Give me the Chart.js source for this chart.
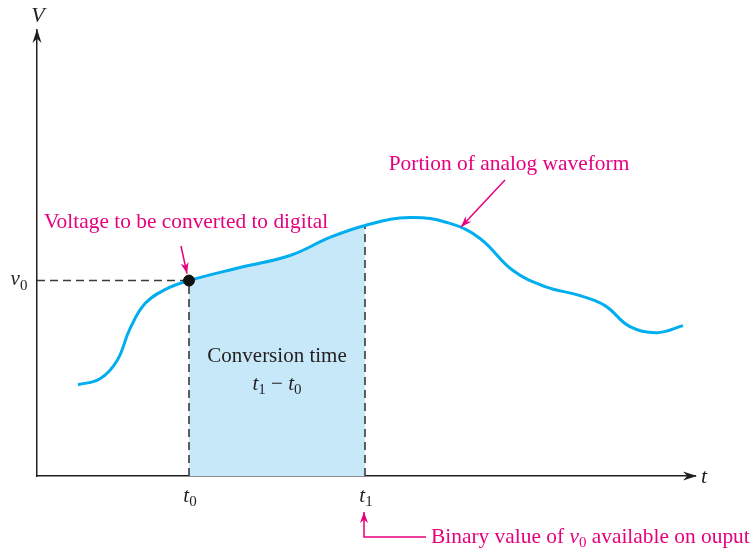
<!DOCTYPE html>
<html><head><meta charset="utf-8">
<script src="https://cdn.jsdelivr.net/npm/chart.js@4/dist/chart.umd.min.js"></script>
<style>html,body{margin:0;padding:0;background:#fff}</style>
</head><body>
<canvas id="c" width="751" height="552"></canvas>
<script>
// ---- data (arbitrary units) ----
const timeValues    = [41, 63, 80, 93, 108, 128, 152, 203, 253, 293, 328, 373, 413, 443, 476, 508, 543, 568, 593, 620, 646];
const voltageValues = [91, 97, 115, 147, 172, 186, 195, 208, 220, 238, 250, 258, 252, 237, 205, 189, 180, 170, 149, 143, 150];
const t0 = 152, t1 = 328;       // start / end of conversion
const v0 = 195, v1 = 250;       // waveform value at t0 / t1
const tMax = 658, vMax = 445;   // axis extents

const BLUE = '#00aeef', FILL = '#c6e8f8', MAGENTA = '#e6007e', INK = '#231f20', DASH = '#3a3a3a';
const FAM = '"Liberation Serif", "Times New Roman", serif';

const curve = timeValues.map((t, i) => ({x: t, y: voltageValues[i]}));

function drawRich(ctx, parts, x, y, align, size, color) {
  const fontFor = p => (p.s === 'i' ? 'italic ' : '') + (p.s === 's' ? Math.round(size * 0.72) : size) + 'px ' + FAM;
  let w = 0;
  for (const p of parts) { ctx.font = fontFor(p); w += ctx.measureText(p.t).width; }
  let cx = align === 'center' ? x - w / 2 : align === 'right' ? x - w : x;
  ctx.textAlign = 'left'; ctx.textBaseline = 'middle'; ctx.fillStyle = color;
  for (const p of parts) {
    ctx.font = fontFor(p);
    ctx.fillText(p.t, cx, y + (p.s === 's' ? size * 0.3 : 0));
    cx += ctx.measureText(p.t).width;
  }
}
function arrowHead(ctx, fx, fy, tx, ty, len, half, color) {
  const a = Math.atan2(ty - fy, tx - fx);
  const c = Math.cos(a), s = Math.sin(a);
  ctx.fillStyle = color;
  ctx.beginPath();
  ctx.moveTo(tx, ty);
  ctx.lineTo(tx - len * c + half * s, ty - len * s - half * c);
  ctx.lineTo(tx - len * 0.7 * c, ty - len * 0.7 * s);
  ctx.lineTo(tx - len * c - half * s, ty - len * s + half * c);
  ctx.closePath(); ctx.fill();
}
function arrow(ctx, pts, color, width) {
  ctx.strokeStyle = color; ctx.lineWidth = width;
  ctx.beginPath(); ctx.moveTo(pts[0][0], pts[0][1]);
  for (let i = 1; i < pts.length; i++) ctx.lineTo(pts[i][0], pts[i][1]);
  ctx.stroke();
  const n = pts.length;
  arrowHead(ctx, pts[n - 2][0], pts[n - 2][1], pts[n - 1][0], pts[n - 1][1], 11, 4, color);
}

const annotations = {
  id: 'annotations',
  afterDraw(chart) {
    const {ctx, chartArea: ca, scales: {x, y}} = chart;
    ctx.save();
    // axis arrows and names
    arrowHead(ctx, ca.left, ca.bottom, ca.left, ca.top - 1, 14, 4.5, INK);
    arrowHead(ctx, ca.left, ca.bottom, ca.right + 2, ca.bottom, 14, 4.5, INK);
    drawRich(ctx, [{t: 'V', s: 'i'}], ca.left + 1, 16, 'center', 22, INK);
    drawRich(ctx, [{t: 't', s: 'i'}], ca.right + 9, ca.bottom + 1, 'center', 22, INK);
    // tick-like labels
    drawRich(ctx, [{t: 't', s: 'i'}, {t: '0', s: 's'}], x.getPixelForValue(t0) + 1, ca.bottom + 20, 'center', 21, INK);
    drawRich(ctx, [{t: 't', s: 'i'}, {t: '1', s: 's'}], x.getPixelForValue(t1) + 1, ca.bottom + 20, 'center', 21, INK);
    drawRich(ctx, [{t: 'v', s: 'i'}, {t: '0', s: 's'}], ca.left - 18, y.getPixelForValue(v0) - 1, 'center', 21, INK);
    // conversion time text
    const mid = (x.getPixelForValue(t0) + x.getPixelForValue(t1)) / 2;
    drawRich(ctx, [{t: 'Conversion time', s: 'r'}], mid, 356, 'center', 21, INK);
    drawRich(ctx, [{t: 't', s: 'i'}, {t: '1', s: 's'}, {t: ' − ', s: 'r'}, {t: 't', s: 'i'}, {t: '0', s: 's'}], mid, 384, 'center', 21, INK);
    // magenta callouts
    drawRich(ctx, [{t: 'Voltage to be converted to digital', s: 'r'}], 186, 222, 'center', 21.4, MAGENTA);
    arrow(ctx, [[181, 246], [x.getPixelForValue(t0) - 2, y.getPixelForValue(v0) - 7]], MAGENTA, 1.5);
    drawRich(ctx, [{t: 'Portion of analog waveform', s: 'r'}], 509, 164, 'center', 21.4, MAGENTA);
    arrow(ctx, [[505, 180], [461, 227]], MAGENTA, 1.5);
    const t1px = x.getPixelForValue(t1) - 1;
    arrow(ctx, [[426, 537], [t1px, 537], [t1px, 512]], MAGENTA, 1.5);
    drawRich(ctx, [{t: 'Binary value of ', s: 'r'}, {t: 'v', s: 'i'}, {t: '0', s: 's'}, {t: ' available on ouput', s: 'r'}], 431, 537, 'left', 21.4, MAGENTA);
    ctx.restore();
  }
};

const dashStyle = {borderColor: DASH, borderWidth: 1.6, borderDash: [8, 5], pointRadius: 0, fill: false, tension: 0};

new Chart(document.getElementById('c'), {
  type: 'line',
  data: {
    datasets: [
      {data: [{x: t0, y: v0}], showLine: false, pointRadius: 5.5, pointBackgroundColor: '#111', pointBorderColor: '#111'},
      {data: curve, borderColor: BLUE, borderWidth: 3, pointRadius: 0, tension: 0.4,
       fill: 'origin', backgroundColor: 'rgba(0,0,0,0)',
       segment: {backgroundColor: c => (c.p0.parsed.x >= t0 && c.p1.parsed.x <= t1) ? FILL : 'rgba(0,0,0,0)'}},
      Object.assign({data: [{x: 0, y: v0}, {x: t0, y: v0}]}, dashStyle),
      Object.assign({data: [{x: t0, y: 0}, {x: t0, y: v0}]}, dashStyle),
      Object.assign({data: [{x: t1, y: 0}, {x: t1, y: v1}]}, dashStyle)
    ]
  },
  options: {
    responsive: false, animation: false, events: [],
    layout: {padding: {left: 29, right: 56, top: 30, bottom: 68}},
    plugins: {legend: {display: false}, tooltip: {enabled: false}, filler: {drawTime: 'beforeDatasetsDraw'}},
    scales: {
      x: {type: 'linear', min: 0, max: tMax, grid: {display: false}, ticks: {display: false}, border: {display: true, color: INK, width: 1.5}},
      y: {type: 'linear', min: 0, max: vMax, grid: {display: false}, ticks: {display: false}, border: {display: true, color: INK, width: 1.5}}
    }
  },
  plugins: [annotations]
});
</script>
</body></html>
